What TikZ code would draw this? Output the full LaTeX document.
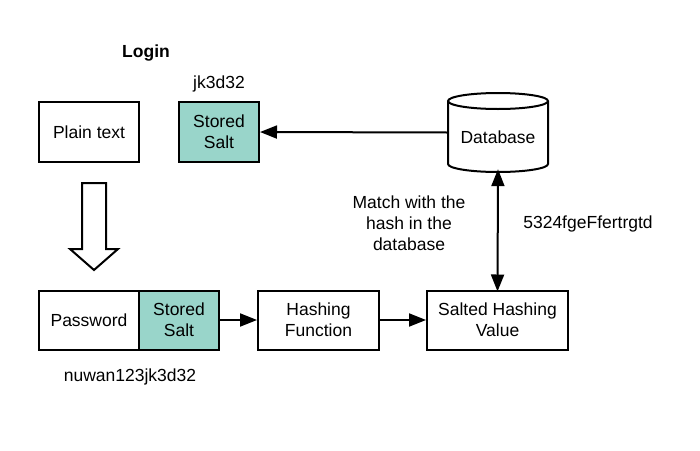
\documentclass[tikz,border=0pt]{standalone}
\usepackage{fontspec}
\setmainfont{Liberation Sans}
\usetikzlibrary{arrows.meta}
\definecolor{saltfill}{HTML}{99D5CA}
\begin{document}
\begin{tikzpicture}[x=1pt,y=-1pt,
  every node/.style={font=\fontsize{17.5}{21}\selectfont, inner sep=0pt},
  box/.style={draw, line width=2pt, align=center, minimum height=59pt},
  salt/.style={box, fill=saltfill},
  lbl/.style={align=center},
  conn/.style={line width=2pt, -{Triangle[length=17pt,width=13pt]}},
  dconn/.style={line width=2pt, {Triangle[length=17pt,width=13pt]}-{Triangle[length=17pt,width=13pt]}},
  shapeline/.style={line width=2pt}]
\useasboundingbox (0,0) rectangle (700,450);
\fill[white] (0,0) rectangle (700,450);

\node[font=\fontsize{17.5}{21}\selectfont\bfseries] (login) at (146,53) {Login};
\node (jk) at (219,84) {jk3d32};

\node[box, minimum width=100pt, minimum height=60pt] (plain) at (89,132) {Plain text};
\node[salt, minimum width=80pt, minimum height=60pt] (salttop) at (219,132) {Stored\\Salt};

% database cylinder
\node[minimum width=100pt, minimum height=79pt] (db) at (498,132.5) {};
\draw[shapeline, fill=white] (448,101) -- (448,164) arc[start angle=180, end angle=360, x radius=50, y radius=-8] -- (548,101) arc[start angle=0, end angle=180, x radius=50, y radius=-8] -- cycle;
\draw[shapeline] (448,101) arc[start angle=180, end angle=360, x radius=50, y radius=-8];
\node at (498,137) {Database};

% hollow block arrow
\draw[shapeline, fill=white] (82,183) -- (106,183) -- (106,249) -- (118,249) -- (94,270) -- (70,249) -- (82,249) -- cycle;

\node[box, minimum width=100pt] (pwd) at (89,320) {Password};
\node[salt, minimum width=80pt] (saltbot) at (179,320) {Stored\\Salt};
\node[box, minimum width=121pt] (hash) at (318.5,320) {Hashing\\Function};
\node[box, minimum width=141pt] (salted) at (497.5,320) {Salted Hashing\\Value};

\node (nuwan) at (130,377) {nuwan123jk3d32};
\node[lbl] (match) at (409,223) {Match with the\\hash in the\\database};
\node (hashval) at (588,224) {5324fgeFfertrgtd};

\draw[conn] (db.west) -- (salttop.east);
\draw[conn] (saltbot.east) -- (hash.west);
\draw[conn] (hash.east) -- (salted.west);
\draw[dconn] ([yshift=3pt]db.south) -- ([yshift=-2pt]salted.north);
\end{tikzpicture}
\end{document}
